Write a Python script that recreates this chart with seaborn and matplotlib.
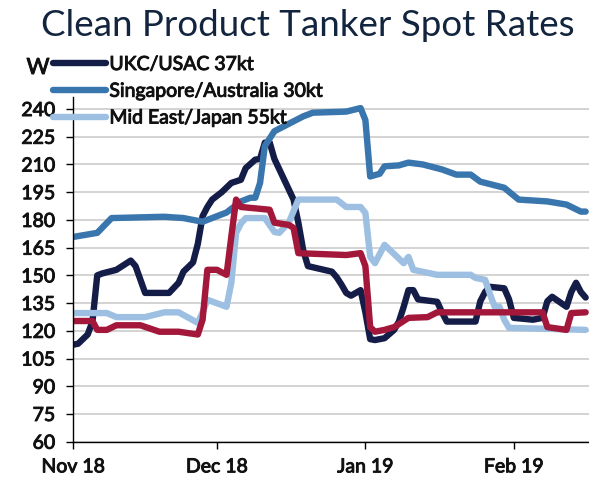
import matplotlib

matplotlib.use('Agg')

import matplotlib.pyplot as plt
import matplotlib.dates as mdates
import matplotlib.patheffects as pe
import pandas as pd
import seaborn as sns


# ---- data (WS points) ----
ukc_dates = ['2018-11-01', '2018-11-02', '2018-11-04', '2018-11-05', '2018-11-06', '2018-11-07',
             '2018-11-10', '2018-11-13', '2018-11-14', '2018-11-16', '2018-11-21', '2018-11-23',
             '2018-11-24', '2018-11-26', '2018-11-27', '2018-11-28', '2018-11-29', '2018-11-30',
             '2018-12-02', '2018-12-04', '2018-12-06', '2018-12-07', '2018-12-09', '2018-12-10',
             '2018-12-11', '2018-12-12', '2018-12-13', '2018-12-15', '2018-12-17', '2018-12-18',
             '2018-12-19', '2018-12-20', '2018-12-25', '2018-12-26', '2018-12-27', '2018-12-28',
             '2018-12-29', '2018-12-31', '2019-01-01', '2019-01-02', '2019-01-03', '2019-01-05',
             '2019-01-07', '2019-01-08', '2019-01-09', '2019-01-10', '2019-01-11', '2019-01-12',
             '2019-01-16', '2019-01-17', '2019-01-18', '2019-01-24', '2019-01-25', '2019-01-26',
             '2019-01-27', '2019-01-30', '2019-01-31', '2019-02-01', '2019-02-05', '2019-02-07',
             '2019-02-08', '2019-02-09', '2019-02-12', '2019-02-13', '2019-02-14', '2019-02-15',
             '2019-02-16']
ukc_values = [112.5, 113, 118, 125, 150, 151,
              153, 158, 155, 140.5, 140.5, 146,
              152, 157, 167, 182, 187, 191,
              195, 200, 201.7, 208, 212.6, 213,
              221.8, 222, 213, 202, 191, 178.5,
              163.8, 155, 152, 149, 145, 140.5,
              139, 142, 130, 115.5, 115, 116,
              120.5, 125, 133, 142, 142, 137,
              135.7, 130, 125, 125, 136, 141,
              143.8, 143, 137, 127, 126, 127,
              136, 138.4, 133, 141, 146, 141,
              138]

sing_dates = ['2018-11-01', '2018-11-06', '2018-11-09', '2018-11-20', '2018-11-24', '2018-11-28',
              '2018-12-03', '2018-12-06', '2018-12-08', '2018-12-09', '2018-12-10', '2018-12-11',
              '2018-12-13', '2018-12-16', '2018-12-19', '2018-12-21', '2018-12-28', '2018-12-31',
              '2019-01-01', '2019-01-02', '2019-01-04', '2019-01-05', '2019-01-08', '2019-01-10',
              '2019-01-13', '2019-01-17', '2019-01-20', '2019-01-23', '2019-01-25', '2019-01-30',
              '2019-02-02', '2019-02-08', '2019-02-12', '2019-02-15', '2019-02-16']
sing_values = [170.8, 173, 181, 181.7, 181, 179,
               184, 190, 192, 192, 200, 220,
               228, 232, 236, 238, 238.6, 240.5,
               234, 203.5, 205, 209, 209.5, 211,
               210, 207.3, 204.5, 204.5, 200.7, 197.4,
               191, 190, 188.3, 184.5, 184.5]

mej_dates = ['2018-11-01', '2018-11-08', '2018-11-10', '2018-11-16', '2018-11-20', '2018-11-23',
             '2018-11-27', '2018-11-28', '2018-11-29', '2018-12-03', '2018-12-04', '2018-12-05',
             '2018-12-06', '2018-12-07', '2018-12-11', '2018-12-13', '2018-12-14', '2018-12-16',
             '2018-12-18', '2018-12-26', '2018-12-28', '2018-12-31', '2019-01-01', '2019-01-02',
             '2019-01-03', '2019-01-05', '2019-01-09', '2019-01-10', '2019-01-11', '2019-01-16',
             '2019-01-23', '2019-01-24', '2019-01-26', '2019-01-27', '2019-01-28', '2019-01-29',
             '2019-01-30', '2019-01-31', '2019-02-16']
mej_values = [129.6, 129.6, 127.4, 127.4, 130, 130,
              124.3, 130, 136.8, 133, 146, 173,
              178, 181, 181, 173.5, 173, 178.5,
              191, 191, 187, 187, 183.8, 160,
              156.6, 166.5, 156.6, 160, 153, 150.3,
              150.3, 148.6, 147.6, 140, 133, 133,
              126, 121.6, 120.5]

# fourth series (no legend entry in the reference)
red_dates = ['2018-11-01', '2018-11-05', '2018-11-06', '2018-11-08', '2018-11-10', '2018-11-15',
             '2018-11-19', '2018-11-23', '2018-11-27', '2018-11-28', '2018-11-29', '2018-12-01',
             '2018-12-03', '2018-12-04', '2018-12-05', '2018-12-06', '2018-12-12', '2018-12-13',
             '2018-12-16', '2018-12-17', '2018-12-18', '2018-12-28', '2018-12-31', '2019-01-01',
             '2019-01-02', '2019-01-03', '2019-01-05', '2019-01-07', '2019-01-10', '2019-01-14',
             '2019-01-16', '2019-02-07', '2019-02-08', '2019-02-12', '2019-02-13', '2019-02-16']
red_values = [125.3, 125.3, 120.5, 120.5, 123, 123,
              119.5, 119.5, 118, 126, 153, 153,
              150.3, 171, 191, 187, 185.5, 178.5,
              177.3, 175.7, 162, 161, 162, 155,
              122, 119.5, 120.5, 122, 127, 127.4,
              130, 130, 122, 120.5, 129.6, 130]

series_names = ['UKC/USAC 37kt', 'Singapore/Australia 30kt', 'Mid East/Japan 55kt', None]
colors = ['#141c48', '#3a76ae', '#9dc0e2', '#a3183a']

y_ticks = list(range(60, 241, 15))
title = 'Clean Product Tanker Spot Rates'
ink = '#111111'


if __name__ == "__main__":
    sns.set_style('white')
    plt.rcParams['font.family'] = ['Lato', 'DejaVu Sans']

    fig = plt.figure(figsize=(5.89, 4.80), dpi=100)
    ax = fig.add_axes([73.3 / 589, 1 - 441.7 / 480, 1 - 73.3 / 589, (441.7 - 97) / 480])

    all_series = [(ukc_dates, ukc_values), (sing_dates, sing_values),
                  (mej_dates, mej_values), (red_dates, red_values)]
    handles = []
    for (dates, values), name, col in zip(all_series, series_names, colors):
        df = pd.DataFrame({'date': pd.to_datetime(dates), 'ws': values})
        sns.lineplot(data=df, x='date', y='ws', ax=ax, color=col, lw=4.6,
                     estimator=None, sort=False, legend=False,
                     solid_joinstyle='round', solid_capstyle='round')
        if name is not None:
            handles.append((ax.lines[-1], name))

    start = pd.Timestamp('2018-11-01')
    ax.set_xlim(start, start + pd.Timedelta(days=107.7))
    ax.set_ylim(60, 246.5)
    ax.set_yticks(y_ticks)
    ax.xaxis.set_major_locator(mdates.MonthLocator())
    ax.xaxis.set_major_formatter(mdates.DateFormatter('%b %y'))
    ax.set_xlabel('')
    ax.set_ylabel('')

    ax.yaxis.grid(True, color='#d0d0d0', lw=1.3)
    ax.xaxis.grid(False)
    ax.set_axisbelow(True)
    for s in ['top', 'right']:
        ax.spines[s].set_visible(False)
    for s in ['left', 'bottom']:
        ax.spines[s].set_color('black')
        ax.spines[s].set_linewidth(1.0)
    ax.tick_params(axis='y', direction='out', length=5, width=1, color='black',
                   labelsize=14, labelcolor=ink, pad=8, left=True)
    ax.tick_params(axis='x', direction='out', length=5, width=1, color='black',
                   labelsize=14, labelcolor=ink, pad=7, bottom=True)

    # fake a semibold weight with a thin outline
    heavy = [pe.withStroke(linewidth=0.7, foreground=ink)]
    for lab in ax.get_xticklabels() + ax.get_yticklabels():
        lab.set_path_effects(heavy)

    leg = fig.legend([h for h, _ in handles], [n for _, n in handles],
                     loc='upper left', bbox_to_anchor=(53 / 589, 1 - 56 / 480),
                     frameon=False, prop={'size': 14},
                     handlelength=2.7, handletextpad=0.2,
                     labelspacing=0.5, borderpad=0, borderaxespad=0)
    for text in leg.get_texts():
        text.set_color(ink)
        text.set_path_effects(heavy)
    for line in leg.get_lines():
        line.set_linewidth(4.6)
        line.set_solid_capstyle('round')

    fig.text(308 / 589, 1 - 25 / 480, title, ha='center', va='center',
             fontsize=26.5, color='#13253e')
    fig.text(38 / 589, 1 - 68 / 480, 'W', ha='center', va='center',
             fontsize=16, color=ink, path_effects=heavy)

    fig.savefig('out.png', dpi=100)
